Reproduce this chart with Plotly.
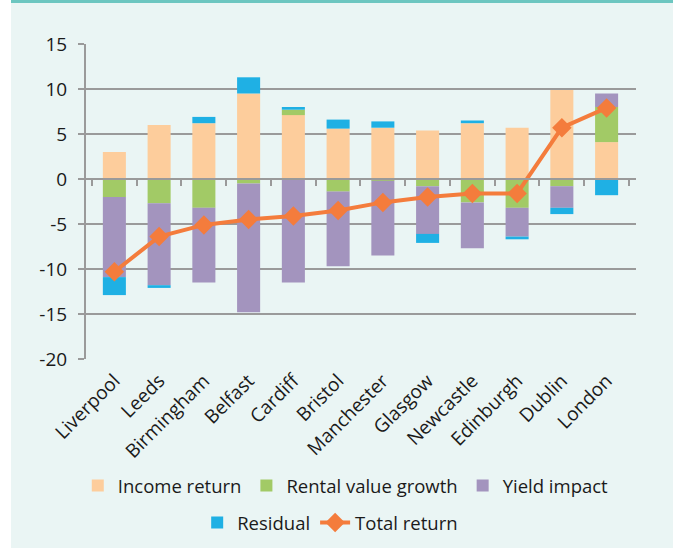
import plotly.graph_objects as go

cities = ["Liverpool", "Leeds", "Birmingham", "Belfast", "Cardiff", "Bristol",
          "Manchester", "Glasgow", "Newcastle", "Edinburgh", "Dublin", "London"]
income_return = [3.0, 6.0, 6.2, 9.5, 7.1, 5.6, 5.7, 5.4, 6.2, 5.7, 9.9, 4.1]
rental_value_growth = [-2.0, -2.7, -3.2, -0.5, 0.6, -1.4, -0.2, -0.8, -2.6, -3.2, -0.8, 3.9]
yield_impact = [-8.9, -9.1, -8.3, -14.3, -11.5, -8.3, -8.3, -5.3, -5.1, -3.2, -2.4, 1.5]
residual = [-2.0, -0.3, 0.7, 1.8, 0.3, 1.0, 0.7, -1.0, 0.3, -0.3, -0.7, -1.8]
total_return = [-10.3, -6.4, -5.1, -4.5, -4.1, -3.5, -2.6, -2.0, -1.6, -1.6, 5.7, 7.9]
y_ticks = [15, 10, 5, 0, -5, -10, -15, -20]

FONT = "Open Sans"
GRID = "#9a9a9a"
TXT = "#1a1a1a"
PANEL = "#EAF5F4"

# plot area in px: left 86, right 636, top 44, bottom 359
PW, PH = 550, 315
X_RANGE = [-0.634, 11.657]

fig = go.Figure()
fig.add_trace(go.Bar(x=cities, y=income_return, name="Income return",
                     marker=dict(color="#FDCD9C", line=dict(width=0)), legend="legend"))
fig.add_trace(go.Bar(x=cities, y=rental_value_growth, name="Rental value growth",
                     marker=dict(color="#A2CA66", line=dict(width=0)), legend="legend"))
fig.add_trace(go.Bar(x=cities, y=yield_impact, name="Yield impact",
                     marker=dict(color="#A394BE", line=dict(width=0)), legend="legend"))
fig.add_trace(go.Bar(x=cities, y=residual, name="Residual",
                     marker=dict(color="#1FB0E4", line=dict(width=0)), legend="legend2"))
fig.add_trace(go.Scatter(x=cities, y=total_return, name="Total return", mode="lines+markers",
                         xaxis="x2",
                         line=dict(color="#F47C3C", width=4),
                         marker=dict(symbol="diamond", size=15, color="#F47C3C"),
                         legend="legend2"))

fig.update_layout(
    width=678, height=548,
    barmode="relative", bargap=0.485,
    paper_bgcolor="white", plot_bgcolor="rgba(0,0,0,0)",
    margin=dict(l=86, r=42, t=44, b=189, autoexpand=False),
    font=dict(family=FONT, color=TXT, size=18),
    xaxis=dict(type="category", categoryorder="array", categoryarray=cities,
               range=X_RANGE, showline=False, ticks="", showgrid=False,
               tickangle=-45, tickfont=dict(size=19, color=TXT), zeroline=False,
               automargin=False, ticklabelstandoff=6),
    xaxis2=dict(type="category", categoryorder="array", categoryarray=cities,
                overlaying="x", anchor="free", position=20 / 35,
                range=X_RANGE, showline=True, linecolor=GRID, linewidth=2,
                ticks="outside", tickson="boundaries", ticklen=6, tickwidth=2,
                tickcolor=GRID, showticklabels=False, showgrid=False, zeroline=False,
                automargin=False),
    yaxis=dict(range=[-20, 15], tickvals=y_ticks, ticktext=[str(v) for v in y_ticks],
               showgrid=True, gridcolor=GRID, gridwidth=2,
               showline=True, linecolor=GRID, linewidth=2,
               ticks="outside", ticklen=6, tickwidth=2, tickcolor=GRID,
               tickfont=dict(size=19, color=TXT), zeroline=False, automargin=False,
               ticklabelstandoff=7),
    legend=dict(orientation="h", xref="container", yref="container",
                x=0.510, y=1 - 486 / 548, xanchor="center", yanchor="middle",
                bgcolor="rgba(0,0,0,0)", font=dict(size=18.5, color=TXT)),
    legend2=dict(orientation="h", xref="container", yref="container",
                 x=0.487, y=1 - 523 / 548, xanchor="center", yanchor="middle",
                 bgcolor="rgba(0,0,0,0)", font=dict(size=18.5, color=TXT)),
    showlegend=True,
    shapes=[
        dict(type="rect", xref="paper", yref="paper", layer="below",
             x0=(11 - 86) / PW, x1=(673 - 86) / PW, y0=(359 - 548) / PH, y1=(359 - 0) / PH,
             fillcolor=PANEL, line=dict(width=0)),
        dict(type="line", xref="paper", yref="paper",
             x0=(11 - 86) / PW, x1=(673 - 86) / PW, y0=(359 - 1.5) / PH, y1=(359 - 1.5) / PH,
             line=dict(color="#6CC6C0", width=3)),
    ],
)

fig.write_html("out.html", config={"displayModeBar": False},
               post_script="document.body.style.margin='0px';")
